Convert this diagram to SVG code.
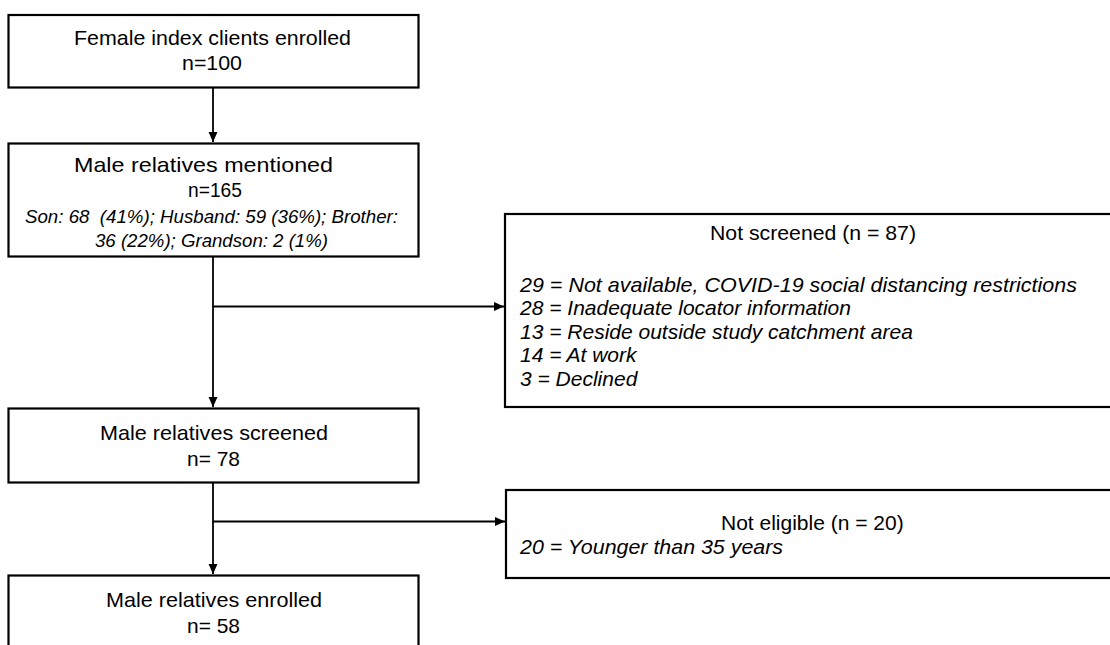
<svg xmlns="http://www.w3.org/2000/svg" width="1110" height="645" viewBox="0 0 1110 645">
<defs>
<style>
.box{fill:#fff;stroke:#000;stroke-width:2.2}
.t{font-family:"Liberation Sans",Arial,sans-serif;font-size:21px;fill:#000}
.c{text-anchor:middle}
.i{font-style:italic}
.s{font-size:18.5px}
.ln{fill:none;stroke:#000;stroke-width:1.8}
</style>
<marker id="ah" viewBox="0 0 10 10" refX="10" refY="5" markerWidth="10" markerHeight="10" markerUnits="userSpaceOnUse" orient="auto">
<path d="M0,0.5 L10,5 L0,9.5 Z" fill="#000"/>
</marker>
</defs>
<rect width="1110" height="645" fill="#fff"/>
<g id="connectors">
<line class="ln" x1="213" y1="88" x2="213" y2="142" marker-end="url(#ah)"/>
<line class="ln" x1="213" y1="257" x2="213" y2="407" marker-end="url(#ah)"/>
<line class="ln" x1="213" y1="306.5" x2="504" y2="306.5" marker-end="url(#ah)"/>
<line class="ln" x1="213" y1="483" x2="213" y2="574" marker-end="url(#ah)"/>
<line class="ln" x1="213" y1="521.5" x2="505" y2="521.5" marker-end="url(#ah)"/>
</g>
<g id="n1">
<rect class="box" x="8.5" y="15" width="410" height="72.5"/>
<text class="t" x="74" y="45" textLength="277" lengthAdjust="spacingAndGlyphs">Female index clients enrolled</text>
<text class="t" x="182" y="70" textLength="60" lengthAdjust="spacingAndGlyphs">n=100</text>
</g>
<g id="n2">
<rect class="box" x="8.5" y="143.5" width="410" height="113"/>
<text class="t" x="74" y="172" textLength="259" lengthAdjust="spacingAndGlyphs">Male relatives mentioned</text>
<text class="t" x="188" y="197" textLength="54" lengthAdjust="spacingAndGlyphs">n=165</text>
<text class="t i s" x="25" y="222.5" textLength="373" lengthAdjust="spacingAndGlyphs" xml:space="preserve">Son: 68  (41%); Husband: 59 (36%); Brother:</text>
<text class="t i s" x="95" y="246.5" textLength="233" lengthAdjust="spacingAndGlyphs">36 (22%); Grandson: 2 (1%)</text>
</g>
<g id="n3">
<rect class="box" x="505" y="214" width="610" height="193"/>
<text class="t" x="710" y="240" textLength="206" lengthAdjust="spacingAndGlyphs">Not screened (n = 87)</text>
<text class="t i" x="520" y="291.5" textLength="557" lengthAdjust="spacingAndGlyphs">29 = Not available, COVID-19 social distancing restrictions</text>
<text class="t i" x="520" y="315">28 = Inadequate locator information</text>
<text class="t i" x="520" y="338.5">13 = Reside outside study catchment area</text>
<text class="t i" x="520" y="362">14 = At work</text>
<text class="t i" x="520" y="385.5">3 = Declined</text>
</g>
<g id="n4">
<rect class="box" x="8.5" y="408.5" width="410" height="74"/>
<text class="t" x="100" y="440" textLength="228" lengthAdjust="spacingAndGlyphs">Male relatives screened</text>
<text class="t" x="187" y="466" textLength="53" lengthAdjust="spacingAndGlyphs">n= 78</text>
</g>
<g id="n5">
<rect class="box" x="506" y="490" width="610" height="88"/>
<text class="t" x="721" y="530">Not eligible (n = 20)</text>
<text class="t i" x="520" y="554" textLength="263" lengthAdjust="spacingAndGlyphs">20 = Younger than 35 years</text>
</g>
<g id="n6">
<rect class="box" x="8.5" y="575.5" width="410" height="90"/>
<text class="t" x="106" y="607" textLength="216" lengthAdjust="spacingAndGlyphs">Male relatives enrolled</text>
<text class="t" x="187" y="633" textLength="53" lengthAdjust="spacingAndGlyphs">n= 58</text>
</g>
</svg>
